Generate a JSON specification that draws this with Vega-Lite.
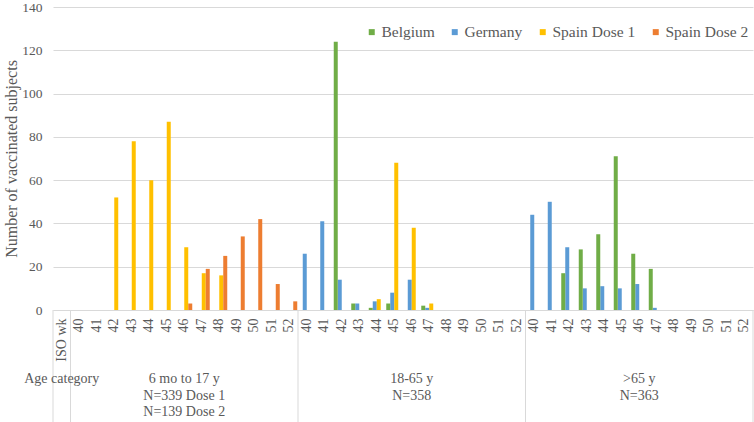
{
  "$schema": "https://vega.github.io/schema/vega-lite/v6.json",
  "padding": {"left": 3, "top": 0, "right": 0, "bottom": 0},
  "config": {
    "font": "Liberation Serif",
    "view": {"stroke": null}
  },
  "bounds": "flush",
  "spacing": 0,
  "resolve": {"scale": {"x": "shared"}},
  "vconcat": [
    {
      "width": 700,
      "height": 303,
      "data": {
        "values": [
          {"group": "g1", "week": 42, "series": "Spain Dose 1", "n": 52},
          {"group": "g1", "week": 43, "series": "Spain Dose 1", "n": 78},
          {"group": "g1", "week": 44, "series": "Spain Dose 1", "n": 60},
          {"group": "g1", "week": 45, "series": "Spain Dose 1", "n": 87},
          {"group": "g1", "week": 46, "series": "Spain Dose 1", "n": 29},
          {"group": "g1", "week": 47, "series": "Spain Dose 1", "n": 17},
          {"group": "g1", "week": 48, "series": "Spain Dose 1", "n": 16},
          {"group": "g1", "week": 46, "series": "Spain Dose 2", "n": 3},
          {"group": "g1", "week": 47, "series": "Spain Dose 2", "n": 19},
          {"group": "g1", "week": 48, "series": "Spain Dose 2", "n": 25},
          {"group": "g1", "week": 49, "series": "Spain Dose 2", "n": 34},
          {"group": "g1", "week": 50, "series": "Spain Dose 2", "n": 42},
          {"group": "g1", "week": 51, "series": "Spain Dose 2", "n": 12},
          {"group": "g1", "week": 52, "series": "Spain Dose 2", "n": 4},
          {"group": "g2", "week": 40, "series": "Germany", "n": 26},
          {"group": "g2", "week": 41, "series": "Germany", "n": 41},
          {"group": "g2", "week": 42, "series": "Germany", "n": 14},
          {"group": "g2", "week": 43, "series": "Germany", "n": 3},
          {"group": "g2", "week": 44, "series": "Germany", "n": 4},
          {"group": "g2", "week": 45, "series": "Germany", "n": 8},
          {"group": "g2", "week": 46, "series": "Germany", "n": 14},
          {"group": "g2", "week": 47, "series": "Germany", "n": 1},
          {"group": "g2", "week": 42, "series": "Belgium", "n": 124},
          {"group": "g2", "week": 43, "series": "Belgium", "n": 3},
          {"group": "g2", "week": 44, "series": "Belgium", "n": 1},
          {"group": "g2", "week": 45, "series": "Belgium", "n": 3},
          {"group": "g2", "week": 47, "series": "Belgium", "n": 2},
          {"group": "g2", "week": 44, "series": "Spain Dose 1", "n": 5},
          {"group": "g2", "week": 45, "series": "Spain Dose 1", "n": 68},
          {"group": "g2", "week": 46, "series": "Spain Dose 1", "n": 38},
          {"group": "g2", "week": 47, "series": "Spain Dose 1", "n": 3},
          {"group": "g3", "week": 40, "series": "Germany", "n": 44},
          {"group": "g3", "week": 41, "series": "Germany", "n": 50},
          {"group": "g3", "week": 42, "series": "Germany", "n": 29},
          {"group": "g3", "week": 43, "series": "Germany", "n": 10},
          {"group": "g3", "week": 44, "series": "Germany", "n": 11},
          {"group": "g3", "week": 45, "series": "Germany", "n": 10},
          {"group": "g3", "week": 46, "series": "Germany", "n": 12},
          {"group": "g3", "week": 47, "series": "Germany", "n": 1},
          {"group": "g3", "week": 42, "series": "Belgium", "n": 17},
          {"group": "g3", "week": 43, "series": "Belgium", "n": 28},
          {"group": "g3", "week": 44, "series": "Belgium", "n": 35},
          {"group": "g3", "week": 45, "series": "Belgium", "n": 71},
          {"group": "g3", "week": 46, "series": "Belgium", "n": 26},
          {"group": "g3", "week": 47, "series": "Belgium", "n": 19}
        ]
      },
      "transform": [{"calculate": "datum.group + '|' + datum.week", "as": "cat"}],
      "mark": {"type": "bar"},
      "encoding": {
        "x": {
          "field": "cat",
          "type": "nominal",
          "scale": {
            "type": "band",
            "paddingInner": 0,
            "paddingOuter": 0,
            "domain": ["ISO wk",
              "g1|40","g1|41","g1|42","g1|43","g1|44","g1|45","g1|46","g1|47","g1|48","g1|49","g1|50","g1|51","g1|52",
              "g2|40","g2|41","g2|42","g2|43","g2|44","g2|45","g2|46","g2|47","g2|48","g2|49","g2|50","g2|51","g2|52",
              "g3|40","g3|41","g3|42","g3|43","g3|44","g3|45","g3|46","g3|47","g3|48","g3|49","g3|50","g3|51","g3|52"]
          },
          "axis": {
            "title": null,
            "domain": true,
            "domainColor": "#D9D9D9",
            "ticks": false,
            "tickSize": 0,
            "labelAngle": 270,
            "labelPadding": 8,
            "labelFont": "Liberation Serif",
            "labelFontSize": 14,
            "labelColor": "#595959",
            "labelOverlap": false,
            "labelBound": false,
            "labelExpr": "indexof(datum.label, '|') >= 0 ? split(datum.label, '|')[1] : datum.label"
          }
        },
        "xOffset": {
          "field": "series",
          "type": "nominal",
          "scale": {
            "domain": ["Belgium", "Germany", "Spain Dose 1", "Spain Dose 2"],
            "paddingInner": 0,
            "paddingOuter": 0.1875
          }
        },
        "y": {
          "field": "n",
          "type": "quantitative",
          "scale": {"domain": [0, 140], "nice": false},
          "axis": {
            "title": "Number of vaccinated subjects",
            "titleFont": "Liberation Serif",
            "titleFontSize": 16,
            "titleFontWeight": "normal",
            "titleColor": "#595959",
            "titlePadding": 2,
            "values": [0, 20, 40, 60, 80, 100, 120, 140],
            "grid": true,
            "gridColor": "#D9D9D9",
            "domain": false,
            "ticks": false,
            "labelPadding": 11,
            "labelFont": "Liberation Serif",
            "labelFontSize": 13.5,
            "labelColor": "#595959"
          }
        },
        "color": {
          "field": "series",
          "type": "nominal",
          "scale": {
            "domain": ["Belgium", "Germany", "Spain Dose 1", "Spain Dose 2"],
            "range": ["#70AD47", "#5B9BD5", "#FFC000", "#ED7D31"]
          },
          "legend": {
            "title": null,
            "orient": "none",
            "direction": "horizontal",
            "legendX": 311,
            "legendY": 17,
            "symbolType": "square",
            "symbolSize": 36,
            "symbolStrokeWidth": 0,
            "labelFont": "Liberation Serif",
            "labelFontSize": 15.5,
            "labelColor": "#595959",
            "labelOffset": 2,
            "columnPadding": 12
          }
        }
      }
    },
    {
      "width": 700,
      "height": 112,
      "layer": [
        {
          "data": {"values": [{"cat": "ISO wk"}, {"cat": "g1|40"}, {"cat": "g2|40"}, {"cat": "g3|40"}]},
          "mark": {"type": "rule", "color": "#D9D9D9", "strokeWidth": 1},
          "encoding": {
            "x": {"field": "cat", "type": "nominal", "bandPosition": 0,
              "scale": {"type": "band", "paddingInner": 0, "paddingOuter": 0}, "axis": null}
          }
        },
        {
          "data": {"values": [{"cat": "g3|52"}]},
          "mark": {"type": "rule", "color": "#D9D9D9", "strokeWidth": 1},
          "encoding": {
            "x": {"field": "cat", "type": "nominal", "bandPosition": 1,
              "scale": {"type": "band", "paddingInner": 0, "paddingOuter": 0}, "axis": null}
          }
        },
        {
          "data": {
            "values": [
              {"cat": "ISO wk", "label": "Age category"},
              {"cat": "g1|46", "label": "6 mo to 17 y\nN=339 Dose 1\nN=139 Dose 2"},
              {"cat": "g2|46", "label": "18-65 y\nN=358"},
              {"cat": "g3|46", "label": ">65 y\nN=363"}
            ]
          },
          "mark": {"type": "text", "font": "Liberation Serif", "fontSize": 14, "color": "#595959", "lineBreak": "\n", "lineHeight": 16.5, "baseline": "top", "dy": 6, "align": "center"},
          "encoding": {
            "x": {"field": "cat", "type": "nominal",
              "scale": {"type": "band", "paddingInner": 0, "paddingOuter": 0}, "axis": null},
            "text": {"field": "label", "type": "nominal"}
          }
        }
      ]
    }
  ]
}
